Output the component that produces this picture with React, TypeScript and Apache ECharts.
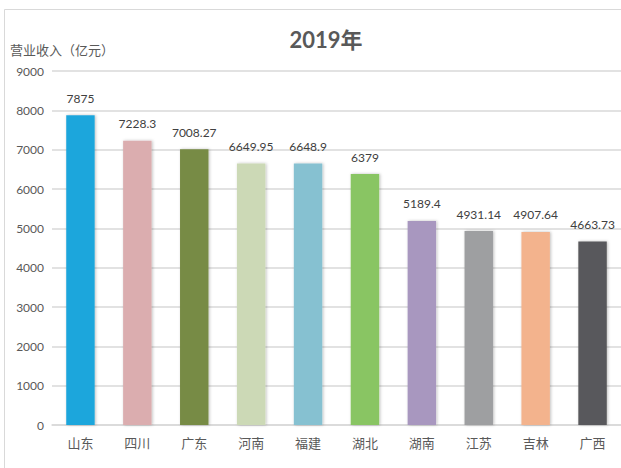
import React, { useEffect, useRef } from "react";
import * as echarts from "echarts";

const categories = ["山东", "四川", "广东", "河南", "福建", "湖北", "湖南", "江苏", "吉林", "广西"];
const values = [7875, 7228.3, 7008.27, 6649.95, 6648.9, 6379, 5189.4, 4931.14, 4907.64, 4663.73];
const barColors = ["#1fa6dc", "#dbadaf", "#778b45", "#ccd9b6", "#86c1d1", "#89c563", "#a897bf", "#9e9fa1", "#f3b38d", "#58585b"];
const titleText = "2019年";
const yAxisName = "营业收入（亿元）";

const FONT = "Lato, 'Noto Sans CJK SC', 'Noto Sans', sans-serif";

export default function App() {
  const ref = useRef<HTMLDivElement>(null);
  useEffect(() => {
    if (!ref.current) return;
    const chart = echarts.init(ref.current, undefined, { renderer: "svg" });
    chart.setOption({
      animation: false,
      backgroundColor: "#ffffff",
      textStyle: { fontFamily: FONT },
      title: {
        text: titleText,
        left: 321,
        top: 23,
        textAlign: "center",
        textStyle: { fontSize: 22, fontWeight: "bold", color: "#595959", fontFamily: FONT },
      },
      graphic: [
        {
          type: "rect",
          z: -10,
          shape: { x: 4.5, y: 9.5, width: 800, height: 600 },
          style: { fill: "none", stroke: "#d9d9d9", lineWidth: 1 },
        },
        {
          type: "text",
          x: 10,
          y: 50,
          style: {
            text: yAxisName,
            fontSize: 13,
            fill: "#595959",
            fontFamily: FONT,
            textVerticalAlign: "middle",
          },
        },
      ],
      grid: { left: 52, top: 71, width: 571, height: 354, containLabel: false },
      xAxis: {
        type: "category",
        data: categories,
        axisTick: { show: false },
        axisLine: { show: true, lineStyle: { color: "#d9d9d9", width: 1.5 } },
        axisLabel: { color: "#595959", fontSize: 13, margin: 11, fontFamily: FONT },
      },
      yAxis: {
        type: "value",
        min: 0,
        max: 9000,
        interval: 1000,
        axisLine: { show: false },
        axisTick: { show: false },
        axisLabel: {
          color: "#595959",
          fontSize: 12,
          margin: 8,
          fontFamily: FONT,
          formatter: (v: number) => String(v),
        },
        splitLine: {
          lineStyle: {
            color: "#d9d9d9",
            width: 1.5,
          },
        },
      },
      series: [
        {
          type: "bar",
          data: values.map((v, i) => ({ value: v, itemStyle: { color: barColors[i] } })),
          barWidth: "50%",
          itemStyle: {
            shadowColor: "rgba(0,0,0,0.25)",
            shadowBlur: 3,
            shadowOffsetX: 1,
            shadowOffsetY: 0,
          },
          label: {
            show: true,
            position: "top",
            distance: 11,
            color: "#404040",
            fontSize: 12,
            fontFamily: FONT,
          },
        },
      ],
    });
    return () => chart.dispose();
  }, []);
  return (
    <div
      ref={ref}
      style={{ position: "fixed", left: 0, top: 0, width: 621, height: 468, background: "#fff" }}
    />
  );
}
